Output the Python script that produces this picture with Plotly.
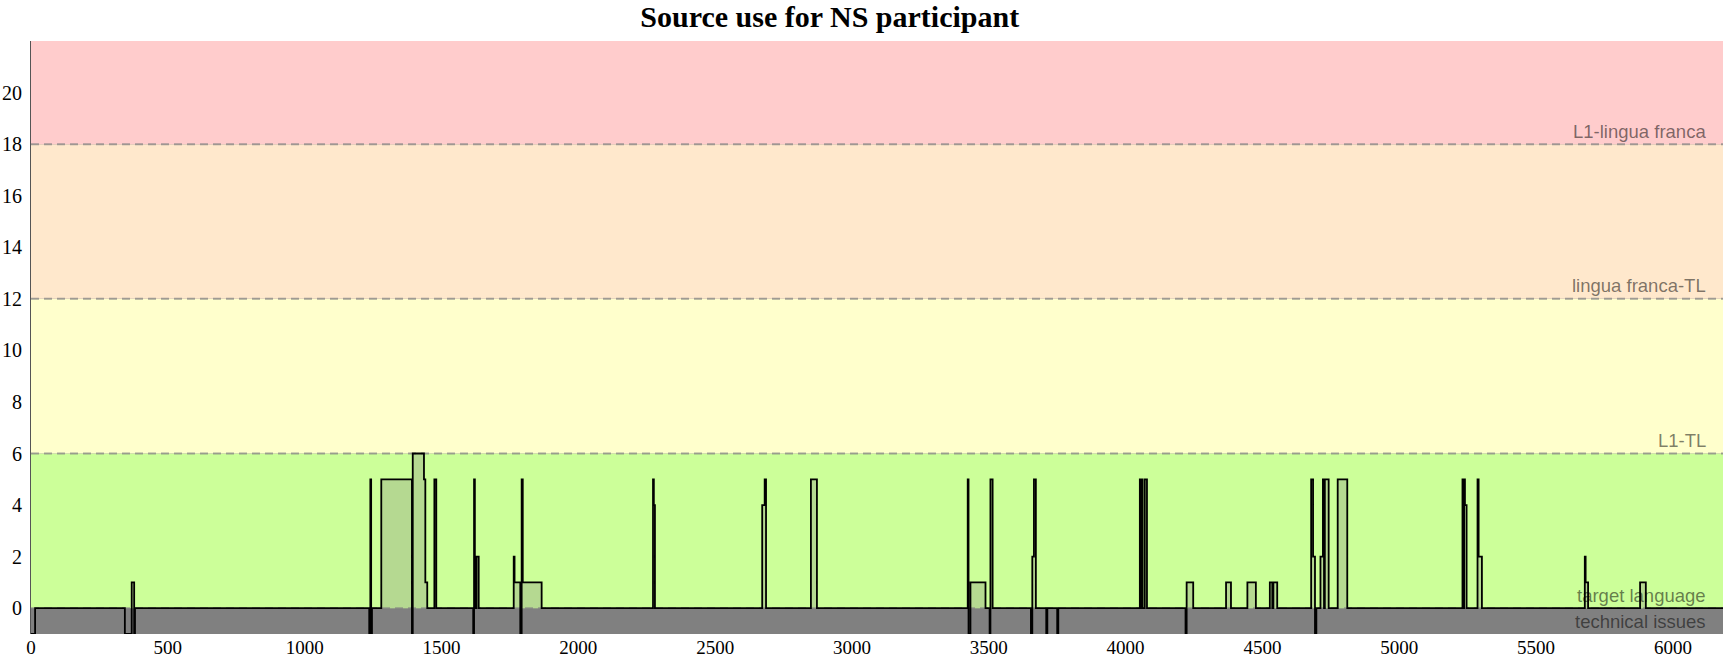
import plotly.graph_objects as go

# step changes of the source-use level (time, level)
t = [0, 15, 343, 368, 377, 380,
     1236, 1240, 1243, 1246, 1280, 1392, 1395, 1436, 1441, 1448, 1474, 1481,
     1616, 1619, 1622, 1628, 1636,
     1764, 1767, 1788, 1793, 1797, 1866,
     2273, 2276, 2280,
     2672, 2681, 2686,
     2850, 2872,
     3423, 3426, 3433, 3488,
     3503, 3506, 3514,
     3654, 3659, 3665, 3672,
     3710, 3714, 3750, 3754,
     4052, 4057, 4059, 4062, 4070, 4078,
     4219, 4223, 4247,
     4367, 4385,
     4445, 4476,
     4527, 4536, 4540, 4554,
     4678, 4685, 4692, 4697,
     4712, 4721, 4725, 4728, 4742,
     4775, 4810,
     5231, 5235, 5237, 5240, 5246,
     5286, 5290, 5302,
     5678, 5681, 5690,
     5880, 5901,
     6183]
level = [-1, 0, -1, 1, -1, 0,
         -1, 5, -1, 0, 5, -1, 6, 5, 1, 0, 5, 0,
         -1, 5, 0, 2, 0,
         2, 1, -1, 5, 1, 0,
         5, 4, 0,
         4, 5, 0,
         5, 0,
         5, -1, 1, 0,
         -1, 5, 0,
         -1, 2, 5, 0,
         -1, 0, -1, 0,
         5, 0, 5, 0, 5, 0,
         -1, 1, 0,
         1, 0,
         1, 0,
         1, 0, 1, 0,
         5, 2, -1, 0,
         2, 5, 0, 5, 0,
         5, 0,
         5, 0, 5, 4, 0,
         5, 2, 0,
         2, 1, 0,
         1, 0,
         0]

# background bands
band_names = ["technical issues", "target language", "L1-TL", "lingua franca-TL", "L1-lingua franca"]
band_low = [-1, 0, 6, 12, 18]
band_high = [0, 6, 12, 18, 22]
band_colors = ["#808080", "#ccff99", "#ffffcc", "#ffe8cc", "#ffcccc"]

fig = go.Figure()

fig.add_trace(go.Scatter(x=t, y=level, mode='lines', line_shape='hv',
                         line=dict(color='black', width=1.8),
                         fill='tozeroy', fillcolor='rgba(128,128,128,0.3)',
                         showlegend=False))

for lo, hi, col, name in zip(band_low, band_high, band_colors, band_names):
    fig.add_shape(type='rect', xref='paper', yref='y', x0=0, x1=1, y0=lo, y1=hi,
                  fillcolor=col, line_width=0, layer='below')
    fig.add_shape(type='line', xref='paper', yref='y', x0=0, x1=1, y0=lo, y1=lo,
                  line=dict(color='rgba(128,128,128,0.7)', width=2, dash='8px,5px'),
                  layer='below')
    fig.add_annotation(text=name, xref='paper', yref='y', x=0.991, y=lo + 0.5,
                       xanchor='right', yanchor='middle', showarrow=False,
                       font=dict(family='Liberation Sans', size=18.5, color='rgba(0,0,0,0.52)'))

fig.update_layout(
    width=1725, height=660,
    title=dict(text='<b>Source use for NS participant</b>', x=0.481, xanchor='center',
               y=0.975, yanchor='middle',
               font=dict(family='Liberation Serif', size=30, color='black')),
    font=dict(family='Liberation Serif', size=20, color='black'),
    plot_bgcolor='#808080', paper_bgcolor='white',
    margin=dict(l=31, r=2, t=41, b=26),
    xaxis=dict(range=[0, 6183], tickvals=list(range(0, 6001, 500)), showgrid=False,
               zeroline=False, showline=False, ticks='', tickfont=dict(size=19),
               automargin=False),
    yaxis=dict(range=[-1, 22], tickvals=list(range(0, 21, 2)), showgrid=False,
               zeroline=False, showline=True, linecolor='#555555', linewidth=1,
               ticks='outside', ticklen=4, tickcolor='rgba(0,0,0,0)', automargin=False),
)

# drop the page's default body margin so the figure fills the window
fig.write_html("out.html", config={'displayModeBar': False},
               post_script="document.body.style.margin='0';document.body.style.overflow='hidden';")
